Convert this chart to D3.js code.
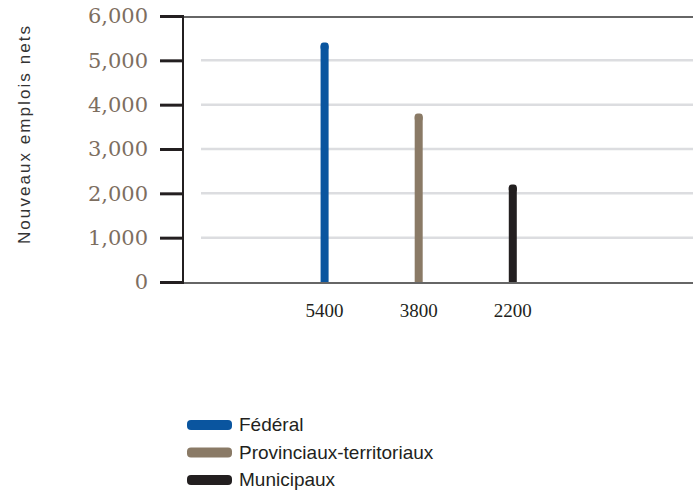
<!DOCTYPE html>
<html>
<head>
<meta charset="utf-8">
<script src="https://cdn.jsdelivr.net/npm/d3@7"></script>
<style>
  body { margin: 0; background: #fff; }
</style>
</head>
<body>
<svg id="chart" width="693" height="497"></svg>
<script>
const categories = ["Fédéral", "Provinciaux-territoriaux", "Municipaux"];
const values = [5400, 3800, 2200];
const xLabels = ["5400", "3800", "2200"];
const yTicks = [0, 1000, 2000, 3000, 4000, 5000, 6000];
const colors = ["#0a559f", "#8a7a66", "#231f20"];

const svg = d3.select("#chart");
const plotLeft = 183, plotRight = 693, plotTop = 16, plotBottom = 282;

const y = d3.scaleLinear().domain([0, 6000]).range([plotBottom, plotTop]);
const x = d3.scalePoint()
  .domain(categories)
  .range([plotLeft, plotRight])
  .padding(1.71)
  .align(0.44);

// gridlines
svg.append("g")
  .selectAll("line")
  .data(yTicks.filter(d => d > 0 && d < 6000))
  .enter()
  .append("line")
  .attr("x1", plotLeft + 18)
  .attr("x2", plotRight)
  .attr("y1", d => y(d))
  .attr("y2", d => y(d))
  .attr("stroke", "#dcdde0")
  .attr("stroke-width", 2.5);

// top frame line
svg.append("line")
  .attr("x1", plotLeft).attr("x2", plotRight)
  .attr("y1", y(6000) + 1).attr("y2", y(6000) + 1)
  .attr("stroke", "#333").attr("stroke-width", 1.5);

// bars
const barW = 8;
const bars = svg.append("g");
bars.selectAll("rect.body")
  .data(values)
  .enter()
  .append("rect")
  .attr("class", "body")
  .attr("x", (d, i) => x(categories[i]) - barW / 2)
  .attr("y", d => y(d) + 3)
  .attr("width", barW)
  .attr("height", d => plotBottom - y(d) - 3)
  .attr("fill", (d, i) => colors[i]);
bars.selectAll("rect.cap")
  .data(values)
  .enter()
  .append("rect")
  .attr("class", "cap")
  .attr("x", (d, i) => x(categories[i]) - barW / 2)
  .attr("y", d => y(d))
  .attr("width", barW)
  .attr("height", 8)
  .attr("rx", 3)
  .attr("fill", (d, i) => colors[i]);

// bottom axis line
svg.append("line")
  .attr("x1", plotLeft).attr("x2", plotRight)
  .attr("y1", plotBottom + 1).attr("y2", plotBottom + 1)
  .attr("stroke", "#333").attr("stroke-width", 1.5);

// y axis
const yAxis = svg.append("g")
  .attr("transform", `translate(${plotLeft},0)`)
  .call(d3.axisLeft(y).tickValues(yTicks).tickSize(23).tickPadding(12)
    .tickFormat(d3.format(",")));
yAxis.select(".domain")
  .attr("stroke", "#231f20").attr("stroke-width", 2)
  .attr("d", `M0,${plotTop - 1}V${plotBottom + 2}`);
yAxis.selectAll(".tick line").attr("stroke", "#231f20").attr("stroke-width", 3);
yAxis.selectAll(".tick text")
  .attr("fill", "#7d6e5f")
  .style("font-family", "'DejaVu Serif', serif")
  .style("font-size", "21px");

// x labels
svg.append("g")
  .selectAll("text")
  .data(xLabels)
  .enter()
  .append("text")
  .attr("x", (d, i) => x(categories[i]))
  .attr("y", 317)
  .attr("text-anchor", "middle")
  .style("font-family", "'Liberation Serif', serif")
  .style("font-size", "19px")
  .attr("fill", "#231f20")
  .text(d => d);

// y title
svg.append("text")
  .attr("transform", "translate(30,135) rotate(-90)")
  .attr("text-anchor", "middle")
  .attr("textLength", 218)
  .attr("lengthAdjust", "spacing")
  .style("font-family", "'Liberation Sans', sans-serif")
  .style("font-size", "17px")
  .attr("fill", "#333")
  .text("Nouveaux emplois nets");

// legend
const legend = svg.append("g").attr("transform", "translate(187,425)");
const items = legend.selectAll("g")
  .data(categories)
  .enter()
  .append("g")
  .attr("transform", (d, i) => `translate(0,${i * 27.5})`);
items.append("rect")
  .attr("x", 0).attr("y", -5)
  .attr("width", 45).attr("height", 10)
  .attr("rx", 4)
  .attr("fill", (d, i) => colors[i]);
items.append("text")
  .attr("x", 52)
  .attr("y", 6)
  .style("font-family", "'Liberation Sans', sans-serif")
  .style("font-size", "19px")
  .attr("fill", "#231f20")
  .text(d => d);
</script>
</body>
</html>
